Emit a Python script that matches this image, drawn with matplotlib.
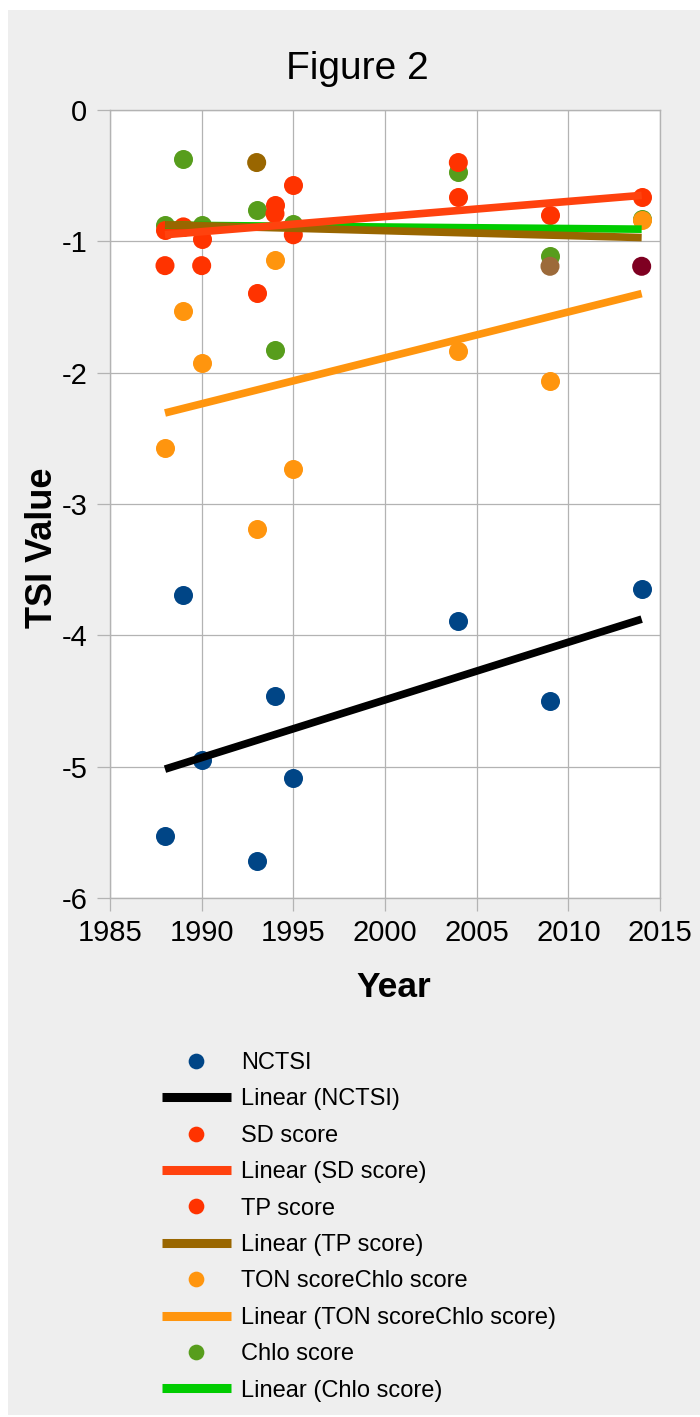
import numpy as np
import matplotlib
matplotlib.use("Agg")
import matplotlib.pyplot as plt
from matplotlib.lines import Line2D
from matplotlib.patches import Rectangle

plt.rcParams['font.family'] = ['Liberation Sans', 'DejaVu Sans']
plt.rcParams['axes.unicode_minus'] = False

years = [1988, 1989, 1990, 1993, 1994, 1995, 2004, 2009, 2014]
nctsi = [-5.53, -3.69, -4.95, -5.72, -4.46, -5.09, -3.89, -4.50, -3.65]
sd_score = [-0.91, -0.89, -0.98, -1.39, -0.72, -0.57, -0.66, -0.80, -0.66]
tp_score = [-1.185, -0.89, -1.185, -0.40, -0.79, -0.95, -0.40, -1.19, -1.19]
ton_score = [-2.57, -1.53, -1.93, -3.19, -1.14, -2.73, -1.835, -2.06, -0.84]
chlo_score = [-0.875, -0.37, -0.875, -0.76, -1.83, -0.87, -0.47, -1.11, -0.83]

series_names = ["NCTSI", "SD score", "TP score", "TON scoreChlo score", "Chlo score"]
x_ticks = [1985, 1990, 1995, 2000, 2005, 2010, 2015]
y_ticks = [0, -1, -2, -3, -4, -5, -6]

c_nctsi = "#004586"
c_red = "#ff3300"
c_sd_line = "#ff420e"
c_tp_line = "#996600"
c_ton = "#ff950e"
c_chlo = "#579d1c"
c_chlo_line = "#00cc00"
tp_point_colors = [c_red, c_red, c_red, "#996600", c_red, c_red, c_red, "#9c6a3a", "#7e0021"]

W, H = 700, 1417
fig = plt.figure(figsize=(W / 100, H / 100), dpi=100)
fig.patch.set_facecolor("white")
fig.add_artist(Rectangle((8 / W, 1 - 1415 / H), 1 - 8 / W, (1415 - 10) / H,
                         transform=fig.transFigure, facecolor="#eeeeee",
                         edgecolor="none", zorder=0))

ax = fig.add_axes([110 / W, 1 - 898 / H, 550 / W, 788 / H])
ax.set_facecolor("white")
ax.set_xlim(1985, 2015)
ax.set_ylim(-6, 0)
ax.set_xticks(x_ticks)
ax.set_yticks(y_ticks)
ax.set_yticklabels([str(v) for v in y_ticks])
ax.grid(True, color="#b3b3b3", linewidth=0.9, zorder=0)
ax.set_axisbelow(True)
for s in ax.spines.values():
    s.set_color("#b3b3b3")
    s.set_linewidth(1.0)
ax.tick_params(axis="both", colors="#b3b3b3", labelcolor="black", length=9.4,
               width=0.9, labelsize=21)
ax.tick_params(axis="y", pad=7)
ax.tick_params(axis="x", pad=6)

ms = 13.7
yrs = np.array(years, dtype=float)

# markers
ax.scatter(yrs, chlo_score, s=ms ** 2, color=c_chlo, zorder=3, linewidths=0)
ax.scatter(yrs, ton_score, s=ms ** 2, color=c_ton, zorder=3, linewidths=0)
ax.scatter(yrs, tp_score, s=ms ** 2, color=tp_point_colors, zorder=3, linewidths=0)
ax.scatter(yrs, sd_score, s=ms ** 2, color=c_red, zorder=3, linewidths=0)
ax.scatter(yrs, nctsi, s=ms ** 2, color=c_nctsi, zorder=3, linewidths=0)

# linear trend lines
lw = 5.5
def trend(vals, color, z):
    k, b = np.polyfit(yrs, np.array(vals), 1)
    xs = np.array([yrs.min(), yrs.max()])
    ax.plot(xs, k * xs + b, color=color, linewidth=lw, solid_capstyle="butt", zorder=z)

trend(chlo_score, c_chlo_line, 4)
trend(ton_score, c_ton, 4.1)
trend(tp_score, c_tp_line, 4.2)
trend(sd_score, c_sd_line, 4.3)
trend(nctsi, "black", 4.4)

fig.text(357.5 / W, 1 - 79 / H, "Figure 2", fontsize=28, ha="center", va="baseline")
fig.text(394 / W, 1 - 997 / H, "Year", fontsize=25.5, fontweight="bold",
         ha="center", va="baseline")
fig.text(43 / W, 1 - 547.5 / H, "TSI Value", fontsize=26, fontweight="bold",
         ha="center", va="center", rotation=90)

lms = 11.3
llw = 6.5
handles = [
    Line2D([], [], linestyle="none", marker="o", markersize=lms, color=c_nctsi, markeredgewidth=0),
    Line2D([], [], color="black", linewidth=llw, solid_capstyle="butt"),
    Line2D([], [], linestyle="none", marker="o", markersize=lms, color=c_red, markeredgewidth=0),
    Line2D([], [], color=c_sd_line, linewidth=llw, solid_capstyle="butt"),
    Line2D([], [], linestyle="none", marker="o", markersize=lms, color=c_red, markeredgewidth=0),
    Line2D([], [], color=c_tp_line, linewidth=llw, solid_capstyle="butt"),
    Line2D([], [], linestyle="none", marker="o", markersize=lms, color=c_ton, markeredgewidth=0),
    Line2D([], [], color=c_ton, linewidth=llw, solid_capstyle="butt"),
    Line2D([], [], linestyle="none", marker="o", markersize=lms, color=c_chlo, markeredgewidth=0),
    Line2D([], [], color=c_chlo_line, linewidth=llw, solid_capstyle="butt"),
]
labels = []
for n in series_names:
    labels.append(n)
    labels.append("Linear (" + n + ")")

fig.legend(handles, labels, loc="upper left", bbox_to_anchor=(162 / W, 1 - 1052 / H),
           frameon=False, fontsize=17, borderpad=0, borderaxespad=0,
           handlelength=2.92, handletextpad=0.42, labelspacing=0.61)

fig.savefig("out.png", dpi=100)
